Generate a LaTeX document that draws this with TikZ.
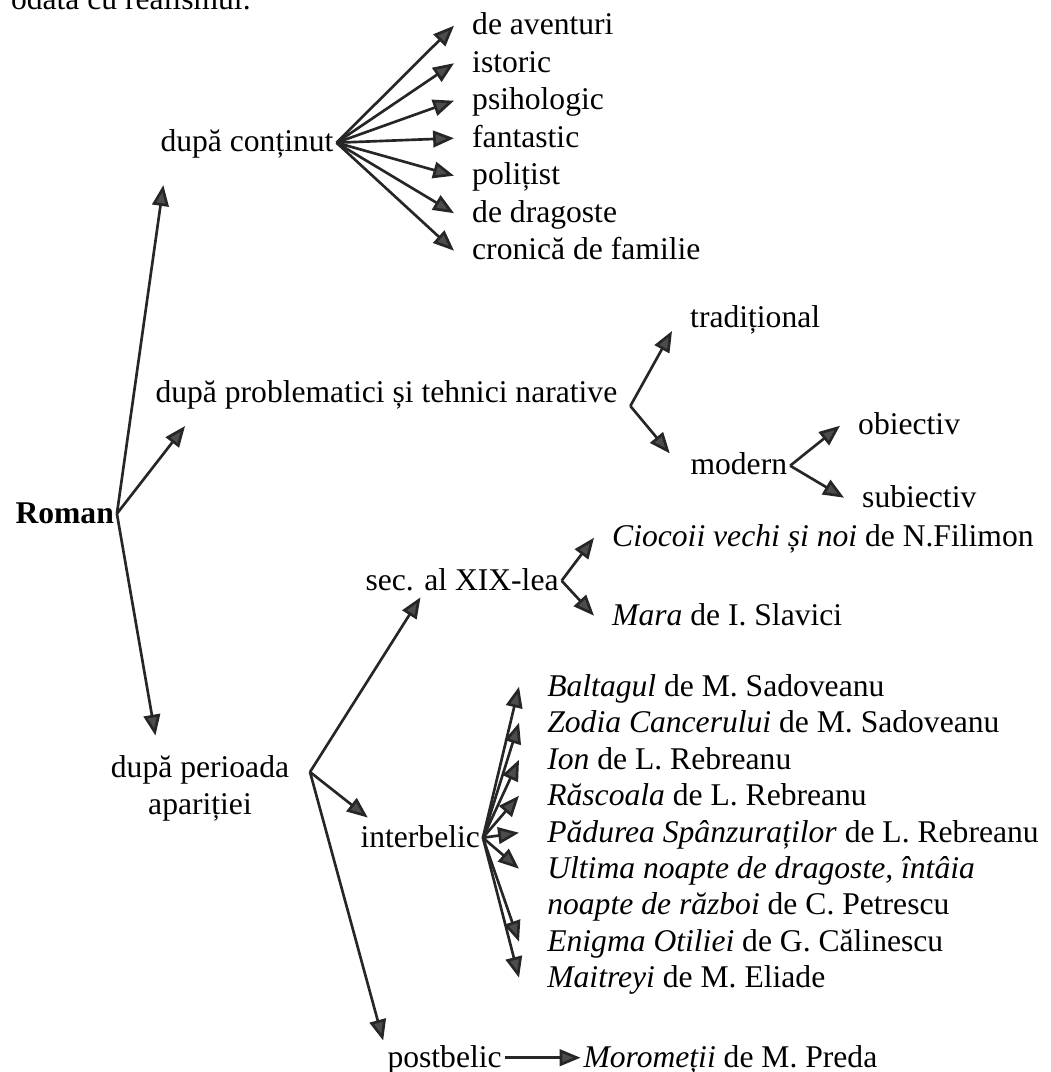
\documentclass[tikz,border=0pt]{standalone}
\usepackage{fontspec}
\setmainfont{Liberation Serif}
\usepackage{tikz}
\usetikzlibrary{arrows.meta}
\tikzstyle{lbl}=[anchor=base west, inner xsep=1pt, inner ysep=1pt, text height=1.6ex, text depth=0pt, font=\fontsize{12.5}{14.6}\selectfont]
\tikzstyle{item}=[lbl, inner xsep=7pt]
\tikzstyle{book}=[lbl, inner xsep=11pt]
\tikzstyle{branch}=[draw=black!85, line width=1.05pt, -{Triangle[length=2.9mm, width=2.3mm, fill=black!70]}]

\begin{document}
\begin{tikzpicture}[x=1.39cm, y=-1.39cm]
	\useasboundingbox (0,0) rectangle (10.50,10.72);
	\begin{scope}
		\node (top) at (0.08, 0.10)[lbl] {odată cu realismul.};
		\node (roman) at (0.125, 5.23)[lbl] {\textbf{Roman}};
		% dupa continut
		\node (cont) at (1.575, 1.52)[lbl] {după conținut};
		\node (aventuri) at (4.54, 0.35)[item] {de aventuri};
		\node (istoric) at (4.54, 0.725)[item] {istoric};
		\node (psiho) at (4.54, 1.10)[item] {psihologic};
		\node (fantastic) at (4.54, 1.475)[item] {fantastic};
		\node (politist) at (4.54, 1.85)[item] {polițist};
		\node (dragoste) at (4.54, 2.225)[item] {de dragoste};
		\node (cronica) at (4.54, 2.60)[item] {cronică de familie};
		% dupa problematici
		\node (probl) at (1.424, 4.03)[lbl, inner xsep=5pt] {după problematici și tehnici narative};
		\node (trad) at (6.72, 3.28)[item] {tradițional};
		\node (modern) at (6.875, 4.75)[lbl] {modern};
		\node (obiectiv) at (8.40, 4.35)[item] {obiectiv};
		\node (subiectiv) at (8.44, 5.07)[item] {subiectiv};
		% dupa perioada
		\node (per) at (2.00, 7.53)[anchor=north, align=center, inner sep=1pt, font=\fontsize{12.5}{14.6}\selectfont] {după perioada\\apariției};
		\coordinate (perhub) at (3.10, 7.72);
		\node (sec) at (3.625, 5.90)[lbl] {sec. al XIX-lea};
		\node (ciocoii) at (5.94, 5.47)[item] {\textit{Ciocoii vechi și noi} de N.Filimon};
		\node (mara) at (5.94, 6.25)[item] {\textit{Mara} de I. Slavici};
		\node (inter) at (3.575, 8.47)[lbl] {interbelic};
		\node (baltagul) at (5.19, 6.96)[book] {\textit{Baltagul} de M. Sadoveanu};
		\node (zodia) at (5.19, 7.32)[book] {\textit{Zodia Cancerului} de M. Sadoveanu};
		\node (ion) at (5.19, 7.69)[book] {\textit{Ion} de L. Rebreanu};
		\node (rascoala) at (5.19, 8.05)[book] {\textit{Răscoala} de L. Rebreanu};
		\node (padurea) at (5.19, 8.42)[book] {\textit{Pădurea Spânzuraților} de L. Rebreanu};
		\node (ultima) at (5.19, 8.78)[book] {\textit{Ultima noapte de dragoste, întâia}};
		\node (ultimab) at (5.19, 9.14)[book] {\textit{noapte de război} de C. Petrescu};
		\node (enigma) at (5.19, 9.51)[book] {\textit{Enigma Otiliei} de G. Călinescu};
		\node (maitreyi) at (5.19, 9.87)[book] {\textit{Maitreyi} de M. Eliade};
		\node (post) at (3.845, 10.67)[lbl] {postbelic};
		\node (moro) at (5.805, 10.67)[lbl] {\textit{Moromeții} de M. Preda};
	\end{scope}
	\begin{scope}
		\path (roman.east) edge [branch, shorten >=12pt] ([xshift=4pt]cont.south west);
		\path (roman.east) edge [branch, shorten >=10pt] ([xshift=23pt]probl.south west);
		\path (roman.east) edge [branch, shorten >=7pt] ([xshift=20pt]per.north west);
		\path (cont.east) edge [branch] (aventuri.west);
		\path (cont.east) edge [branch] (istoric.west);
		\path (cont.east) edge [branch] (psiho.west);
		\path (cont.east) edge [branch] (fantastic.west);
		\path (cont.east) edge [branch] (politist.west);
		\path (cont.east) edge [branch] (dragoste.west);
		\path (cont.east) edge [branch] (cronica.west);
		\path (probl.south east) edge [branch] (trad.south west);
		\path (probl.south east) edge [branch] ([xshift=-7pt]modern.north west);
		\path (modern.east) edge [branch] (obiectiv.west);
		\path (modern.east) edge [branch] (subiectiv.west);
		\path (perhub) edge [branch, shorten >=2pt] ([xshift=24pt]sec.south west);
		\path (perhub) edge [branch, shorten >=5pt] ([xshift=8pt]inter.north west);
		\path (perhub) edge [branch, shorten >=2pt] (post.north west);
		\path (sec.east) edge [branch] (ciocoii.west);
		\path (sec.east) edge [branch] (mara.west);
		\path (inter.east) edge [branch] (baltagul.west);
		\path (inter.east) edge [branch] (zodia.west);
		\path (inter.east) edge [branch] (ion.west);
		\path (inter.east) edge [branch] (rascoala.west);
		\path (inter.east) edge [branch] (padurea.west);
		\path (inter.east) edge [branch] (ultima.west);
		\path (inter.east) edge [branch] (enigma.west);
		\path (inter.east) edge [branch] (maitreyi.west);
		\path (post.east) edge [branch] (moro.west);
	\end{scope}
\end{tikzpicture}
\end{document}
